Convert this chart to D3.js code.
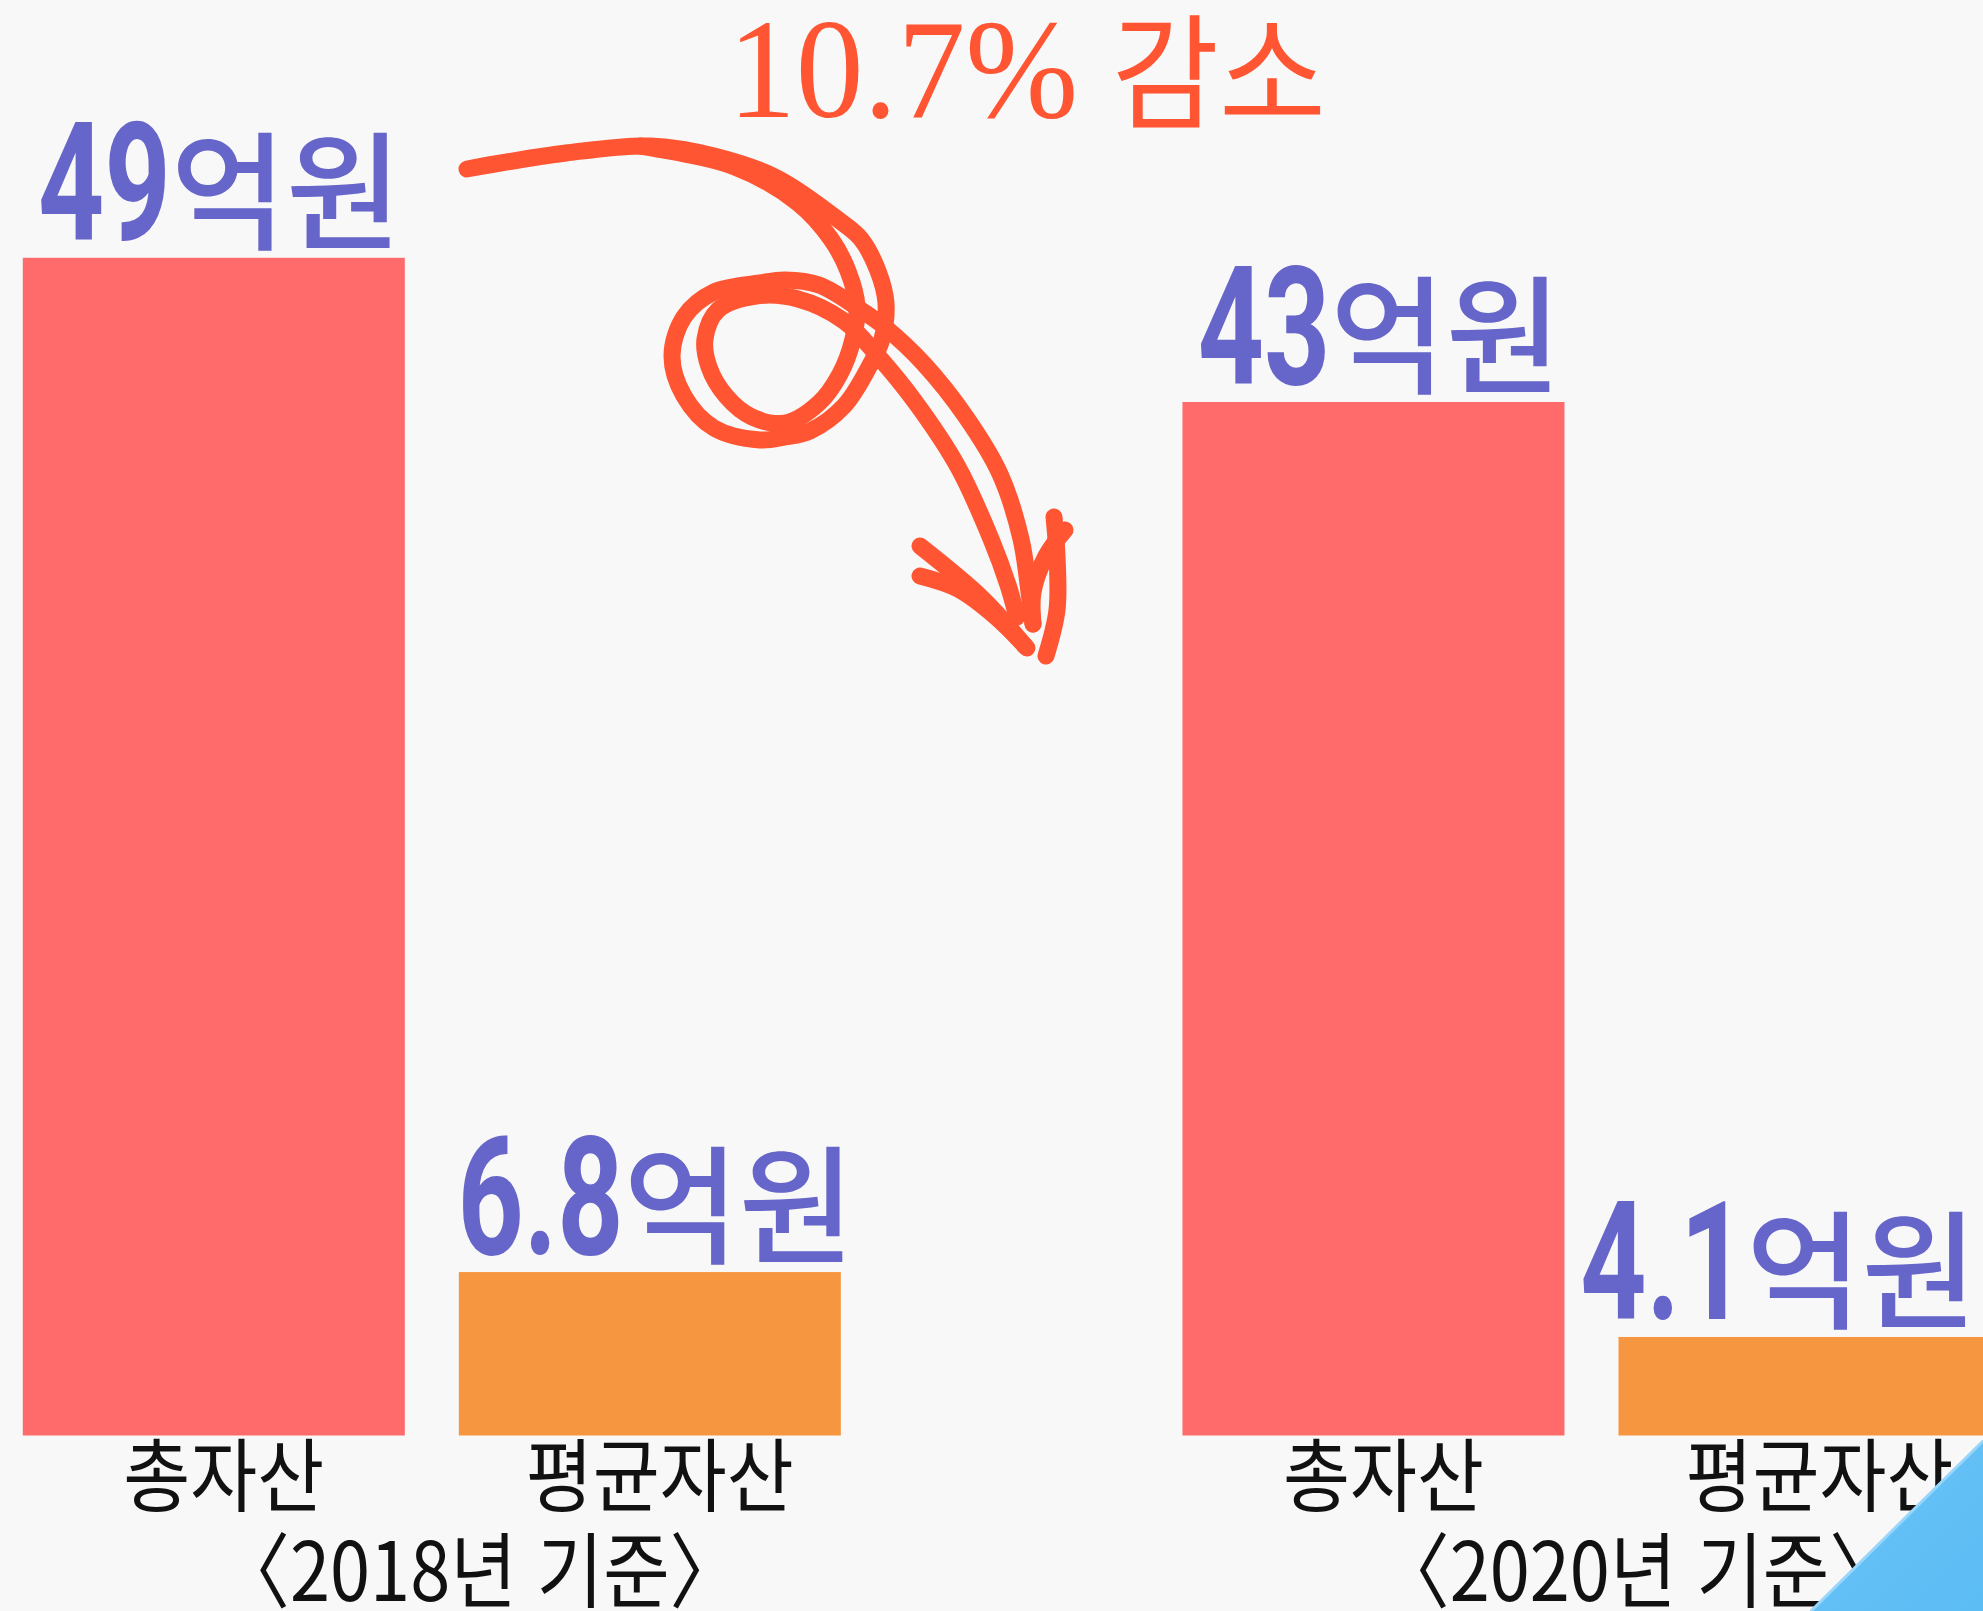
<!DOCTYPE html>
<html lang="ko">
<head>
<meta charset="utf-8">
<title>총자산 · 평균자산 변화</title>
<script src="https://cdn.jsdelivr.net/npm/d3@7"></script>
<style>
  html, body { margin: 0; padding: 0; background: #f8f8f8; overflow: hidden; }
  svg { display: block; }
</style>
</head>
<body>
<svg id="chart" width="1983" height="1611"></svg>
<script>
// ---- data ----
const years = ["2018", "2020"];
const categories = ["총자산", "평균자산"];
const totalAssets = [49, 43];      // 억원
const avgAssets = [6.8, 4.1];      // 억원
const yearLabels = ["〈2018년 기준〉", "〈2020년 기준〉"];
const unitLabel = "억원";
const changeRate = "10.7%";
const changeWord = "감소";

const rows = years.map((yr, i) => ({
  year: yr,
  label: yearLabels[i],
  bars: [
    { cat: categories[0], value: totalAssets[i] },
    { cat: categories[1], value: avgAssets[i] }
  ]
}));

// ---- layout ----
const W = 1983, H = 1611;
const baseY = 1435.5;
const colors = { "총자산": "#ff6a6a", "평균자산": "#f79641" };
const purple = "#6665c9";
const accent = "#ff5532";

const svg = d3.select("#chart");
svg.append("rect").attr("width", W).attr("height", H).attr("fill", "#f8f8f8");

const x0 = d3.scaleBand().domain(years).range([22.8, 2000.5])
  .paddingInner(0.2946).paddingOuter(0);
const x1 = d3.scaleBand().domain(categories).range([0, x0.bandwidth()])
  .paddingInner(0.1239);
const y = d3.scaleLinear().domain([0, 49]).range([baseY, baseY - 49 * 24.035]);

// squeeze a text element horizontally by a factor, keeping the font size
function squeeze(sel, f) {
  sel.each(function () {
    const n = this.getComputedTextLength();
    d3.select(this).attr("textLength", n * f).attr("lengthAdjust", "spacingAndGlyphs");
  });
  return sel;
}

function draw() {
  const grad = svg.append("defs").append("linearGradient")
    .attr("id", "cornerFill").attr("x1", 0).attr("y1", 0).attr("x2", 1).attr("y2", 1);
  grad.append("stop").attr("offset", 0).attr("stop-color", "#6cc4f7");
  grad.append("stop").attr("offset", 1).attr("stop-color", "#5bbcf4");

  const groups = svg.selectAll("g.year").data(rows).join("g")
    .attr("class", "year")
    .attr("transform", d => `translate(${x0(d.year)},0)`);

  // bars
  groups.selectAll("rect.bar").data(d => d.bars).join("rect")
    .attr("class", "bar")
    .attr("x", d => x1(d.cat))
    .attr("width", x1.bandwidth())
    .attr("y", d => y(d.value))
    .attr("height", d => baseY - y(d.value))
    .attr("fill", d => colors[d.cat]);

  // value labels: condensed bold number + unit, kept inside the canvas
  groups.selectAll("g.val").data(d => d.bars).join("g")
    .attr("class", "val")
    .each(function (d) {
      const g = d3.select(this);
      const gx = x0(d3.select(this.parentNode).datum().year);
      const cx = x1(d.cat) + x1.bandwidth() / 2 + 6;
      const by = y(d.value) - 18;
      const num = g.append("text")
        .attr("y", by)
        .attr("font-family", "Roboto, 'Liberation Sans', sans-serif")
        .attr("font-weight", 700)
        .attr("font-size", 165)
        .attr("fill", purple)
        .text(String(d.value));
      squeeze(num, 0.70);
      const unit = g.append("text")
        .attr("y", by)
        .attr("font-family", "'Noto Sans CJK KR', sans-serif")
        .attr("font-weight", 500)
        .attr("font-size", 128)
        .attr("fill", purple)
        .text(unitLabel);
      squeeze(unit, 0.98);
      const nw = +num.attr("textLength"), uw = +unit.attr("textLength");
      const total = nw + uw;
      let start = cx - total / 2;
      const maxEnd = W - 6 - gx;
      if (start + total > maxEnd) start = maxEnd - total;
      num.attr("x", start);
      unit.attr("x", start + nw);
    });

  // category labels under bars
  groups.selectAll("text.cat").data(d => d.bars).join("text")
    .attr("class", "cat")
    .attr("x", d => x1(d.cat) + x1.bandwidth() / 2 + 10)
    .attr("y", 1505)
    .attr("text-anchor", "middle")
    .attr("font-family", "'Noto Sans CJK KR', sans-serif")
    .attr("font-size", 80)
    .attr("fill", "#111")
    .text(d => d.cat)
    .call(squeeze, 0.91);

  // year captions
  groups.append("text")
    .attr("class", "yr")
    .attr("x", x0.bandwidth() / 2 + 48)
    .attr("y", 1601)
    .attr("text-anchor", "middle")
    .attr("font-family", "'Noto Sans CJK KR', sans-serif")
    .attr("font-size", 82)
    .attr("fill", "#111")
    .text(d => d.label)
    .call(squeeze, 0.88);

  // headline
  const t1 = svg.append("text")
    .attr("x", 728).attr("y", 117)
    .attr("font-family", "'Liberation Serif', 'DejaVu Serif', serif")
    .attr("font-size", 142)
    .attr("fill", accent)
    .text(changeRate);
  squeeze(t1, 0.955);
  svg.append("text")
    .attr("x", 1112).attr("y", 119)
    .attr("font-family", "'Noto Sans CJK KR', sans-serif")
    .attr("font-weight", 400)
    .attr("font-size", 125)
    .attr("fill", accent)
    .text(changeWord)
    .call(squeeze, 0.93);

  // hand-drawn looping arrow from the 2018 total to the 2020 total
  const strokes = [
    [[467, 169], [566, 153], [650, 146], [714, 156], [777, 178], [840, 221], [861, 239],
     [878, 271], [886, 303], [882, 339], [869, 367], [844, 406], [810, 431], [785, 437],
     [760, 440], [714, 428], [684, 396], [672, 356], [684, 317], [714, 292], [760, 283],
     [785, 280], [819, 285], [861, 310], [886, 328], [924, 364], [966, 417], [1000, 474],
     [1021, 539], [1029, 592], [1033, 624]],
    [[640, 146], [735, 167], [798, 203], [831, 239], [848, 271], [857, 306], [853, 339],
     [840, 374], [819, 403], [785, 423], [752, 417], [726, 396], [709, 367], [705, 339],
     [718, 310], [756, 296], [798, 299], [844, 321], [878, 356], [916, 403], [958, 467],
     [991, 539], [1008, 585], [1017, 617]],
    [[920, 546], [983, 599], [1025, 646]],
    [[920, 576], [958, 589], [996, 617], [1027, 648]],
    [[1054, 517], [1057, 556], [1057, 610], [1046, 656]],
    [[1065, 530], [1046, 556], [1033, 592], [1033, 624]]
  ];
  const line = d3.line().curve(d3.curveCatmullRom.alpha(0.5));
  const arrow = svg.append("g").attr("class", "arrow")
    .attr("fill", "none")
    .attr("stroke", accent)
    .attr("stroke-width", 17)
    .attr("stroke-linecap", "round")
    .attr("stroke-linejoin", "round");
  strokes.forEach(pts => {
    arrow.append("path").attr("d", line(pts));
  });

  // decorative corner
  svg.append("path")
    .attr("d", d3.line()([[1810, 1611], [1983, 1440], [1983, 1611]]) + "Z")
    .attr("fill", "url(#cornerFill)");
  svg.append("path")
    .attr("d", d3.line()([[1811, 1611], [1983, 1441]]))
    .attr("stroke", "#9ad6fa").attr("stroke-width", 3).attr("fill", "none");
}

if (document.fonts && document.fonts.ready) {
  document.fonts.ready.then(draw);
} else {
  draw();
}
</script>
</body>
</html>
